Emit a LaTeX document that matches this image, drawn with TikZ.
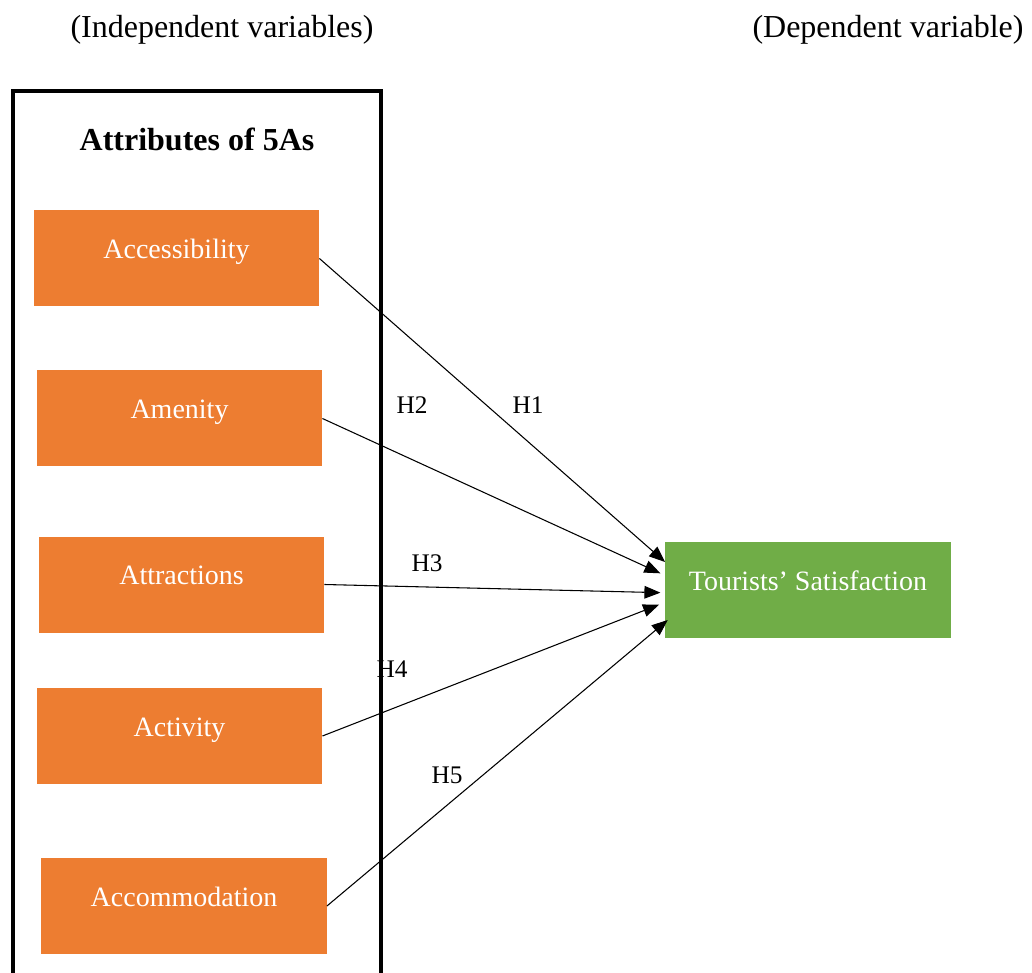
\documentclass[tikz,border=0pt]{standalone}
\usepackage{fontspec}
\setmainfont{Liberation Serif}
\usetikzlibrary{arrows.meta}
\definecolor{boxorange}{HTML}{ED7D31}
\definecolor{boxgreen}{HTML}{70AD47}
\tikzset{attr/.style={fill=boxorange,text=white,minimum width=214pt,minimum height=72pt,
   font=\fontsize{21}{25}\selectfont,text height=0.7em,text depth=0.7em},
 dep/.style={attr,fill=boxgreen},
 hyp/.style={font=\fontsize{19}{23}\selectfont},
 head/.style={font=\fontsize{24}{28}\selectfont},
 arr/.style={draw,line width=0.8pt,-{Triangle[length=12pt,width=9.5pt]}},
 frame/.style={draw,line width=2.4pt},
 }

\begin{document}
\begin{tikzpicture}[x=0.75pt,y=-0.75pt]
        \useasboundingbox (0,0) rectangle (1032,973);
        \node[head] (indep) at (222,30) {(Independent variables)};
        \node[head] (depv) at (888,30) {(Dependent variable)};
        % frame round the five attributes
        \path[frame] (13,973) |- (381,91) -- (381,973);
        \node[head,font=\fontsize{24}{28}\selectfont\bfseries] (title) at (197,139) {Attributes of 5As};
        \node[attr] (access) at (176.5,258.5) {Accessibility};
        \node[attr] (amen) at (179.5,418.5) {Amenity};
        \node[attr] (attrac) at (181.5,584.5) {Attractions};
        \node[attr] (activ) at (179.5,736) {Activity};
        \node[attr] (accom) at (184,906) {Accommodation};
        \node[dep] (tsat) at (808,590) {Tourists’ Satisfaction};
        \draw[arr] (access.east) -- ([yshift=21pt]tsat.west);
        \draw[arr] (amen.east) -- ([xshift=-3.5pt,yshift=12.5pt]tsat.west);
        \draw[arr] (attrac.east) -- ([xshift=-3.5pt,yshift=-2pt]tsat.west);
        \draw[arr] (activ.east) -- ([xshift=-4.5pt,yshift=-11pt]tsat.west);
        \draw[arr] (accom.east) -- ([xshift=2pt,yshift=-22.5pt]tsat.west);
        \node[hyp] (h1) at (528,405) {H1};
        \node[hyp] (h2) at (412,405) {H2};
        \node[hyp] (h3) at (427,563) {H3};
        \node[hyp] (h4) at (392,669) {H4};
        \node[hyp] (h5) at (447,775) {H5};
\end{tikzpicture}
\end{document}
